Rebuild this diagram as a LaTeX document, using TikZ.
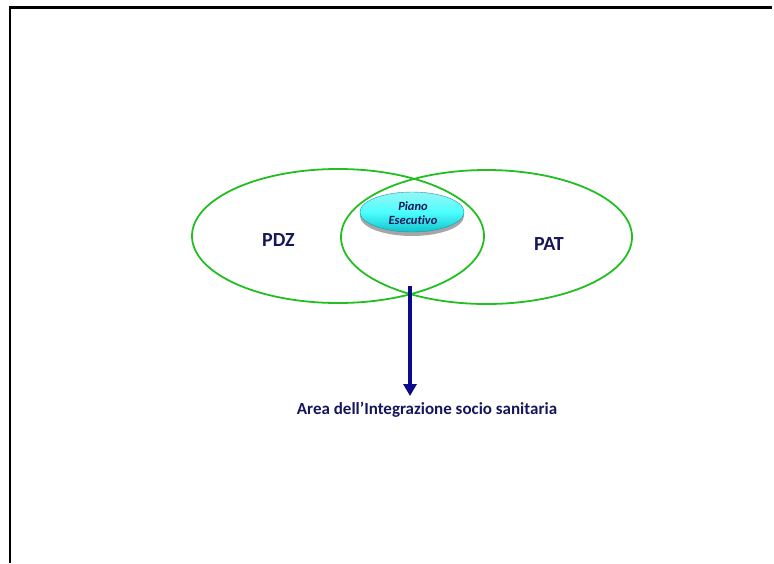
\documentclass[tikz,border=0pt]{standalone}
\usepackage{fontspec}
\setmainfont{Carlito}[Ligatures=NoCommon]
\usetikzlibrary{shadows,arrows.meta}
\definecolor{grn}{RGB}{34,190,34}
\definecolor{navytxt}{RGB}{22,22,90}
\definecolor{arrowblue}{RGB}{10,10,140}
\definecolor{cyanlight}{RGB}{150,245,245}
\definecolor{cyandark}{RGB}{20,195,205}
\tikzset{
  venn/.style={draw=grn, line width=1.8pt},
  bigtxt/.style={text=navytxt, font=\bfseries\fontsize{20}{22}\selectfont},
}
\begin{document}
\begin{tikzpicture}[x=1pt,y=-1pt]
\useasboundingbox (0,0) rectangle (774,563);
\draw[line width=2.5pt] (10,563) -- (10,7.5) -- (772,7.5);
\draw[venn] (338,236) ellipse [x radius=146, y radius=67];
\draw[venn] (486.5,237) ellipse [x radius=145.5, y radius=67];
\fill[gray!70] (412,216) ellipse [x radius=52, y radius=20];
\shade[top color=cyanlight, bottom color=cyandark, middle color=cyan!70!white, draw=cyandark!80!black, line width=0.4pt] (412,212) ellipse [x radius=52, y radius=20];
\node (pe) at (413,213) [align=center, text=navytxt, inner sep=0pt, font=\bfseries\itshape\fontsize{12.5}{14}\selectfont] {Piano\\Esecu\kern0pt tivo};
\node (pdz) at (278.5,240) [bigtxt] {PDZ};
\node (pat) at (549,244.5) [bigtxt] {PAT};
\coordinate (top) at (410,286);
\node (area) at (427,410) [text=navytxt, font=\bfseries\fontsize{17}{19}\selectfont] {Area dell’Integrazione socio sanitaria};
\draw[arrowblue, line width=3.5pt, -{Triangle[length=12pt,width=13pt]}] (top) -- (410,396);
\end{tikzpicture}
\end{document}
